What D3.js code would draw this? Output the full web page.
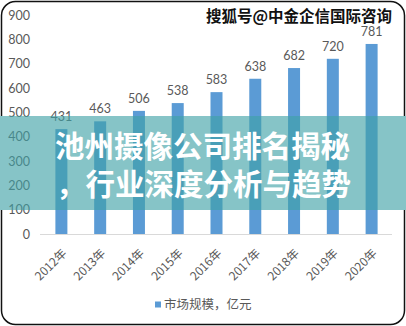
<!DOCTYPE html>
<html>
<head>
<meta charset="utf-8">
<script src="https://cdn.jsdelivr.net/npm/d3@7"></script>
<style>
  html, body { margin: 0; padding: 0; background: #fff; }
  svg { display: block; }
</style>
</head>
<body>
<svg id="chart" width="406" height="326"></svg>
<script>
// Market size by year (亿元)
const years = ["2012年", "2013年", "2014年", "2015年", "2016年", "2017年", "2018年", "2019年", "2020年"];
const marketSize = [431, 463, 506, 538, 583, 638, 682, 720, 781];
const yTicks = [0, 100, 200, 300, 400, 500, 600, 700, 800, 900];
const seriesName = "市场规模，亿元";
const headline = ["池州摄像公司排名揭秘", "，行业深度分析与趋势"];
const watermark = "搜狐号@中金企信国际咨询";

const W = 406, H = 326;
const barColor = "#5b9bd5";
const textColor = "#595959";
const numFont = "Lato, 'Noto Sans CJK SC', sans-serif";
const cjkFont = "'Noto Sans CJK SC', 'Noto Sans', sans-serif";

const svg = d3.select("#chart");

// Outer rounded frame
svg.append("rect")
  .attr("x", 1.5).attr("y", 1.5)
  .attr("width", W - 3).attr("height", H - 3)
  .attr("rx", 14).attr("ry", 14)
  .attr("fill", "#fff")
  .attr("stroke", "#111").attr("stroke-width", 1.5);

const x = d3.scaleBand().domain(years).range([42, 391]).padding(0);
const y = d3.scaleLinear().domain([0, 900]).range([234, 15]);
const barW = 12;

// Y axis labels
const yAxis = svg.append("g")
  .attr("transform", "translate(30,0)")
  .call(d3.axisLeft(y).tickValues(yTicks).tickSize(0).tickPadding(0).tickFormat(d3.format("d")));
yAxis.select(".domain").remove();
yAxis.selectAll("text")
  .attr("fill", textColor)
  .style("font-family", numFont)
  .style("font-size", "12.5px");

// Baseline
svg.append("line")
  .attr("x1", 40).attr("x2", 392)
  .attr("y1", y(0) + 0.5).attr("y2", y(0) + 0.5)
  .attr("stroke", "#d9d9d9").attr("stroke-width", 1);

// Bars
svg.append("g").selectAll("rect")
  .data(marketSize)
  .join("rect")
  .attr("x", (d, i) => x(years[i]) + x.bandwidth() / 2 - barW / 2)
  .attr("y", d => y(d))
  .attr("width", barW)
  .attr("height", d => y(0) - y(d))
  .attr("fill", barColor);

// Value labels
svg.append("g").selectAll("text")
  .data(marketSize)
  .join("text")
  .attr("x", (d, i) => x(years[i]) + x.bandwidth() / 2)
  .attr("y", d => y(d) - 8)
  .attr("text-anchor", "middle")
  .attr("fill", textColor)
  .style("font-family", numFont)
  .style("font-size", "12.5px")
  .text(d => d);

// X axis labels, rotated
const xAxis = svg.append("g")
  .attr("transform", `translate(0,${y(0)})`)
  .call(d3.axisBottom(x).tickSize(0).tickPadding(0));
xAxis.select(".domain").remove();
xAxis.selectAll("text")
  .attr("fill", textColor)
  .attr("text-anchor", "end")
  .attr("dy", null)
  .attr("y", 0)
  .attr("transform", "translate(6,20) rotate(-45)")
  .style("font-family", cjkFont)
  .style("font-size", "12px");

// Legend
svg.append("rect")
  .attr("x", 155).attr("y", 301.5)
  .attr("width", 6).attr("height", 6)
  .attr("fill", barColor);
svg.append("text")
  .attr("x", 164).attr("y", 309)
  .attr("fill", textColor)
  .style("font-family", cjkFont)
  .style("font-size", "12.5px")
  .text(seriesName);

// Watermark
svg.append("text")
  .attr("x", 392).attr("y", 22)
  .attr("text-anchor", "end")
  .attr("fill", "#111")
  .attr("stroke", "#fff").attr("stroke-width", 2.5)
  .attr("paint-order", "stroke")
  .style("font-family", cjkFont)
  .style("font-weight", 700)
  .style("font-size", "15.5px")
  .text(watermark);

// Headline band
svg.append("rect")
  .attr("x", 0).attr("y", 116)
  .attr("width", 5).attr("height", 94)
  .attr("fill", "#fff");
svg.append("rect")
  .attr("x", 401).attr("y", 116)
  .attr("width", 5).attr("height", 94)
  .attr("fill", "#fff");
svg.append("rect")
  .attr("x", 0).attr("y", 116)
  .attr("width", W).attr("height", 94)
  .attr("fill", "rgb(64,161,166)")
  .attr("fill-opacity", 0.63);

svg.append("g").selectAll("text")
  .data(headline)
  .join("text")
  .attr("x", (d, i) => i === 0 ? 55 : 56)
  .attr("y", (d, i) => 157 + i * 38)
  .attr("fill", "#fff")
  .style("font-family", cjkFont)
  .style("font-weight", 700)
  .style("font-size", "29.5px")
  .text(d => d);
</script>
</body>
</html>
